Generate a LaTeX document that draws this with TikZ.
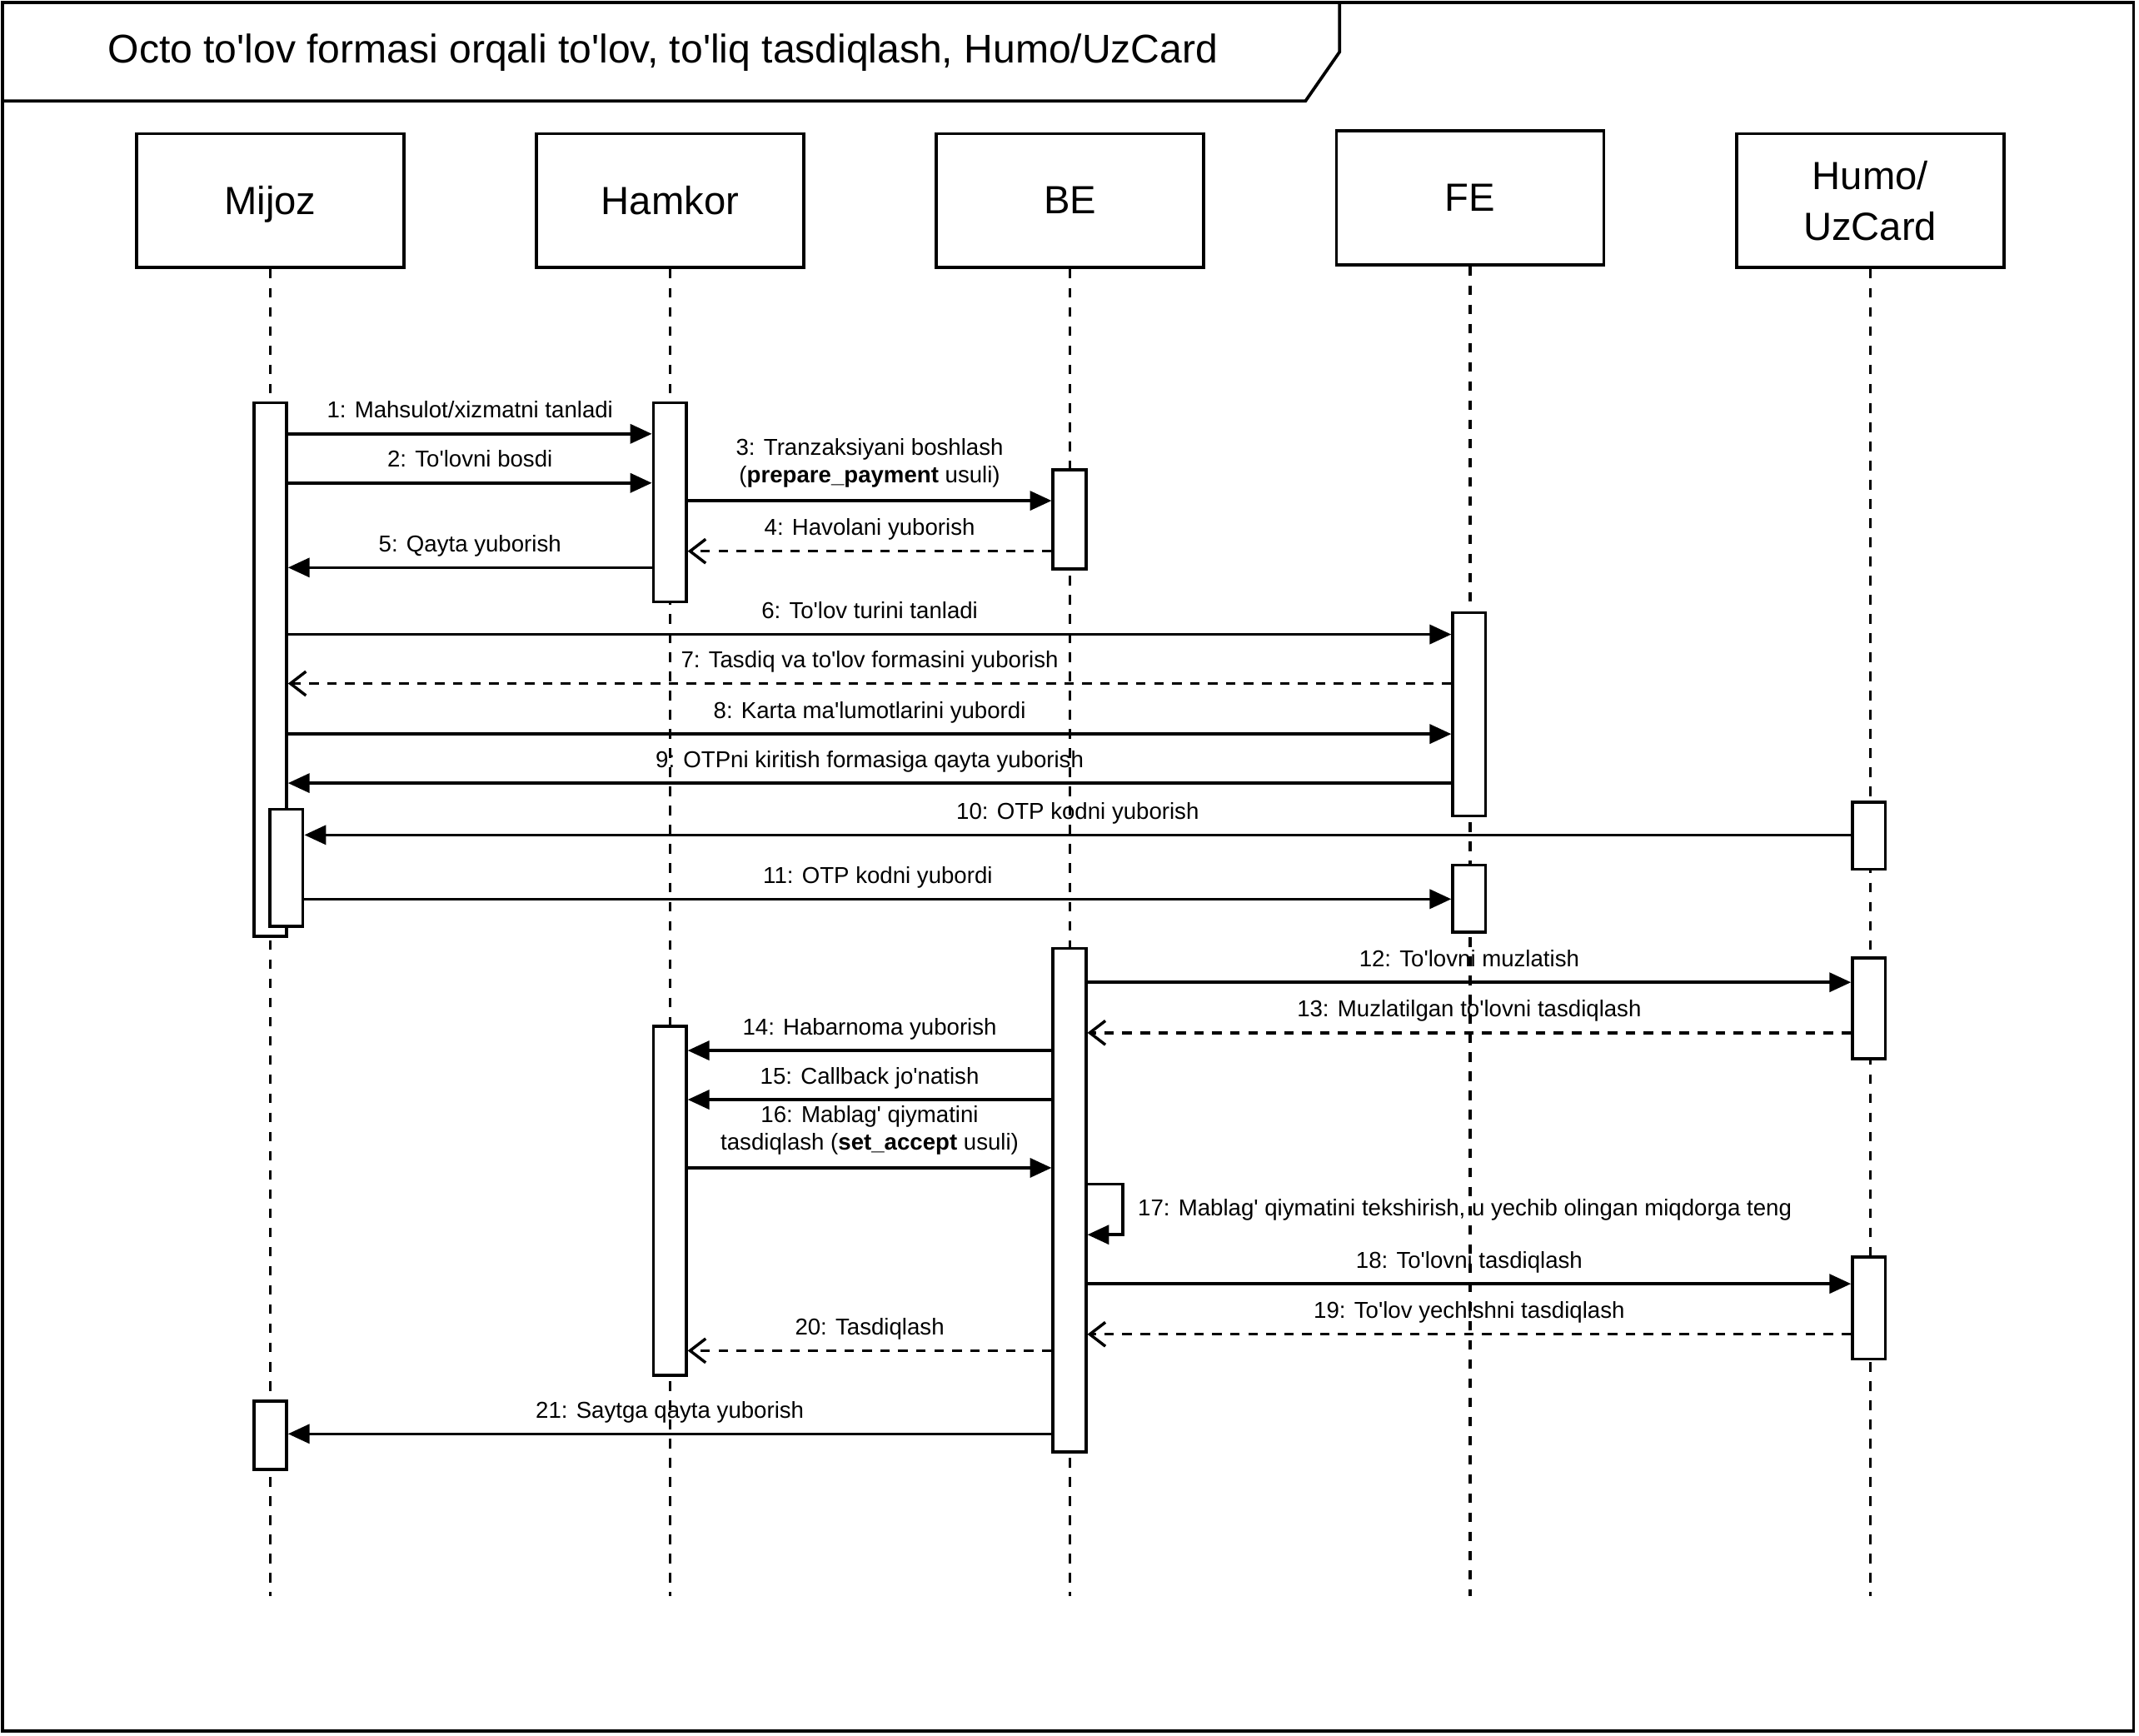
\documentclass[tikz,border=0pt]{standalone}
\usepackage{fontspec}
\newfontfamily\diafont{Liberation Sans}
\usetikzlibrary{arrows.meta,positioning}

\begin{document}
\begin{tikzpicture}[x=0.02cm, y=-0.02cm,
    lifebox/.style={draw, line width=1.3pt, minimum width=3.92cm, minimum height=1.96cm, text depth=0pt,
        align=center, font=\diafont\fontsize{16.4}{21}\selectfont},
    lifeline/.style={line width=1.2pt, dash pattern=on 4pt off 4pt},
    bar/.style={draw, fill=white, line width=1.3pt, minimum width=0.48cm, inner sep=0pt, anchor=north},
    call/.style={line width=1.2pt, -{Triangle[length=9pt,width=8pt]}},
    reply/.style={line width=1.2pt, dash pattern=on 4pt off 3.5pt, -{Straight Barb[length=6.5pt,width=10pt]}},
    lbl/.style={font=\diafont\fontsize{9.6}{11.6}\selectfont, inner sep=0pt, anchor=base, yshift=0.23cm},
    lbltwo/.style={font=\diafont\fontsize{9.6}{11.6}\selectfont, inner sep=0pt, align=center,
        anchor=south, yshift=0.17cm},
    loopnote/.style={font=\diafont\fontsize{9.6}{11.6}\selectfont, inner sep=0pt, anchor=west, xshift=0.2cm},
    frame/.style={line width=1.3pt}]

    \useasboundingbox (0,0) rectangle (1568,1272);

    % frame and its title tab
    \draw[frame] (2,2) rectangle (1564,1269);
    \draw[frame] (2,74) -- (957,74) -- (982,38) -- (982,2);
    \node[font=\diafont\fontsize{16.7}{20}\selectfont, anchor=base] (title) at (486,46)
        {Octo to'lov formasi orqali to'lov, to'liq tasdiqlash, Humo/UzCard};

    % participants
    \node[lifebox] (mijoz) at (198,147) {Mijoz};
    \node[lifebox, right=1.9cm of mijoz] (hamkor) {Hamkor};
    \node[lifebox, right=1.9cm of hamkor] (be) {BE};
    \node[lifebox, right=1.9cm of be, yshift=0.04cm] (fe) {FE};
    \node[lifebox, right=1.9cm of fe, yshift=-0.04cm] (humo) {Humo/\\UzCard};

    \coordinate (bottom) at (0,1170);
    \foreach \p in {mijoz,hamkor,be,fe,humo}
        \draw[lifeline] (\p.south) -- (\p.south |- bottom);

    % activations
    \node[bar, minimum height=7.82cm] (mz1) at (198,294) {};
    \node[bar, minimum height=1.72cm] (mz2) at (210,592) {};
    \node[bar, minimum height=1.0cm] (mz3) at (198,1026) {};
    \node[bar, minimum height=2.92cm] (hk1) at (491,294) {};
    \node[bar, minimum height=5.12cm] (hk2) at (491,751) {};
    \node[bar, minimum height=1.46cm] (be1) at (784,343) {};
    \node[bar, minimum height=7.38cm] (be2) at (784,694) {};
    \node[bar, minimum height=2.98cm] (fe1) at (1077,448) {};
    \node[bar, minimum height=0.98cm] (fe2) at (1077,633) {};
    \node[bar, minimum height=0.98cm] (hu1) at (1370,587) {};
    \node[bar, minimum height=1.48cm] (hu2) at (1370,701) {};
    \node[bar, minimum height=1.5cm] (hu3) at (1370,920) {};

    % messages
    \draw[call] (mz1.east |- 0,318) -- node[lbl] {1: Mahsulot/xizmatni tanladi} (hk1.west |- 0,318);
    \draw[call] (mz1.east |- 0,354) -- node[lbl] {2: To'lovni bosdi} (hk1.west |- 0,354);
    \draw[call] (hk1.east |- 0,367) -- node[lbltwo] {3: Tranzaksiyani boshlash\\(\textbf{prepare\_payment} usuli)} (be1.west |- 0,367);
    \draw[reply] (be1.west |- 0,404) -- node[lbl] {4: Havolani yuborish} (hk1.east |- 0,404);
    \draw[call] (hk1.west |- 0,416) -- node[lbl] {5: Qayta yuborish} (mz1.east |- 0,416);
    \draw[call] (mz1.east |- 0,465) -- node[lbl] {6: To'lov turini tanladi} (fe1.west |- 0,465);
    \draw[reply] (fe1.west |- 0,501) -- node[lbl] {7: Tasdiq va to'lov formasini yuborish} (mz1.east |- 0,501);
    \draw[call] (mz1.east |- 0,538) -- node[lbl] {8: Karta ma'lumotlarini yubordi} (fe1.west |- 0,538);
    \draw[call] (fe1.west |- 0,574) -- node[lbl] {9: OTPni kiritish formasiga qayta yuborish} (mz1.east |- 0,574);
    \draw[call] (hu1.west |- 0,612) -- node[lbl] {10: OTP kodni yuborish} (mz2.east |- 0,612);
    \draw[call] (mz2.east |- 0,659) -- node[lbl] {11: OTP kodni yubordi} (fe2.west |- 0,659);
    \draw[call] (be2.east |- 0,720) -- node[lbl] {12: To'lovni muzlatish} (hu2.west |- 0,720);
    \draw[reply] (hu2.west |- 0,757) -- node[lbl] {13: Muzlatilgan to'lovni tasdiqlash} (be2.east |- 0,757);
    \draw[call] (be2.west |- 0,770) -- node[lbl] {14: Habarnoma yuborish} (hk2.east |- 0,770);
    \draw[call] (be2.west |- 0,806) -- node[lbl] {15: Callback jo'natish} (hk2.east |- 0,806);
    \draw[call] (hk2.east |- 0,856) -- node[lbltwo] {16: Mablag' qiymatini\\tasdiqlash (\textbf{set\_accept} usuli)} (be2.west |- 0,856);
    \draw[call] (be2.east |- 0,868) -- ++(26,0)
        -- node[loopnote] {17: Mablag' qiymatini tekshirish, u yechib olingan miqdorga teng} ++(0,37)
        -- (be2.east |- 0,905);
    \draw[call] (be2.east |- 0,941) -- node[lbl] {18: To'lovni tasdiqlash} (hu3.west |- 0,941);
    \draw[reply] (hu3.west |- 0,978) -- node[lbl] {19: To'lov yechishni tasdiqlash} (be2.east |- 0,978);
    \draw[reply] (be2.west |- 0,990) -- node[lbl] {20: Tasdiqlash} (hk2.east |- 0,990);
    \draw[call] (be2.west |- 0,1051) -- node[lbl] {21: Saytga qayta yuborish} (mz3.east |- 0,1051);
\end{tikzpicture}
\end{document}
